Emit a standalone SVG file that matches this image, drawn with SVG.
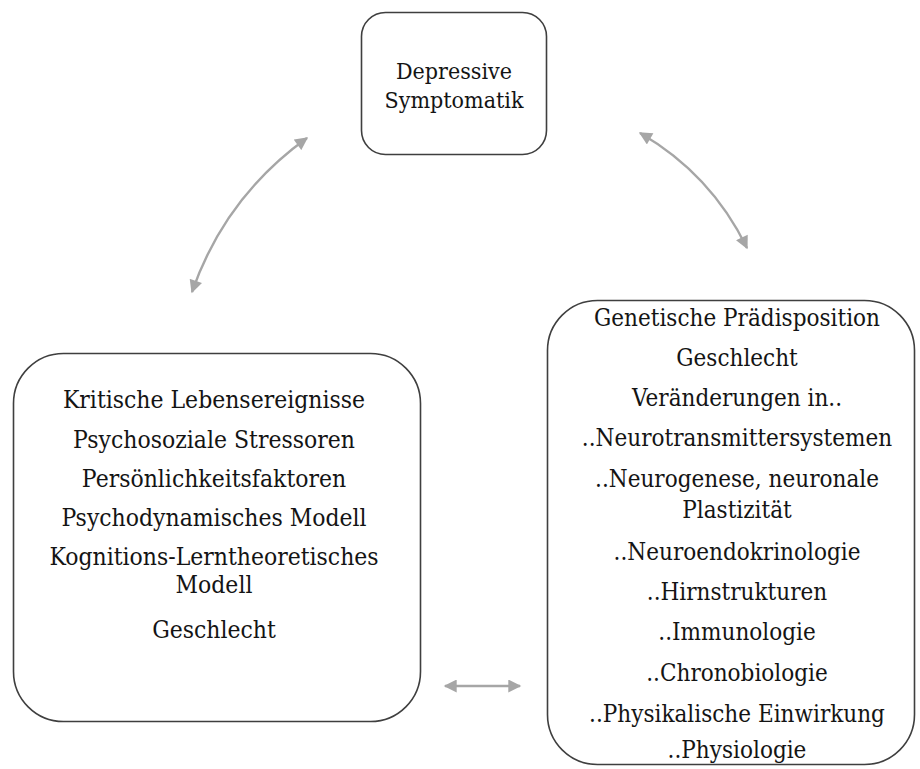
<svg xmlns="http://www.w3.org/2000/svg" width="920" height="769" viewBox="0 0 920 769">
  <style>
    .box { fill: #ffffff; stroke: #3f3f3f; stroke-width: 1.6; }
    .link { fill: none; stroke: #a6a6a6; stroke-width: 2.4; marker-start: url(#head); marker-end: url(#head); }
  </style>
  <defs>
    <marker id="head" viewBox="0 0 10 10" refX="9" refY="5" markerUnits="userSpaceOnUse" markerWidth="14" markerHeight="13" orient="auto-start-reverse">
      <path d="M0,0 L10,5 L0,10 z" fill="#a6a6a6"/>
    </marker>
  </defs>
  <rect width="920" height="769" fill="#ffffff"/>

  <g id="connectors">
    <path class="link" d="M192,292 Q225,197 307,138"/>
    <path class="link" d="M640,133 Q711,174 747,248"/>
    <path class="link" d="M445,686 L520,686"/>
  </g>

  <!-- serif labels, narrowed horizontally to a Times-like width -->
  <g font-family="DejaVu Serif, serif" fill="#141414" text-anchor="middle">
    <g id="node-symptomatik">
      <rect class="box" x="361.5" y="12.5" width="185" height="142" rx="24"/>
      <g font-size="23" transform="translate(454,0) scale(0.9,1)">
        <text x="0" y="79">Depressive</text>
        <text x="0" y="108">Symptomatik</text>
      </g>
    </g>

    <g id="node-psychosozial">
      <rect class="box" x="13.5" y="353.5" width="407" height="368" rx="50"/>
      <g font-size="25" transform="translate(214,0) scale(0.88,1)">
        <text x="0" y="408">Kritische Lebensereignisse</text>
        <text x="0" y="448">Psychosoziale Stressoren</text>
        <text x="0" y="487">Persönlichkeitsfaktoren</text>
        <text x="0" y="526">Psychodynamisches Modell</text>
        <text x="0" y="565">Kognitions-Lerntheoretisches</text>
        <text x="0" y="593">Modell</text>
        <text x="0" y="638">Geschlecht</text>
      </g>
    </g>

    <g id="node-biologisch">
      <rect class="box" x="547.5" y="300.5" width="367" height="464" rx="50"/>
      <g font-size="24" transform="translate(737,0) scale(0.9,1)">
        <text x="0" y="326">Genetische Prädisposition</text>
        <text x="0" y="366">Geschlecht</text>
        <text x="0" y="406">Veränderungen in..</text>
        <text x="0" y="446">..Neurotransmittersystemen</text>
        <text x="0" y="487">..Neurogenese, neuronale</text>
        <text x="0" y="518">Plastizität</text>
        <text x="0" y="560">..Neuroendokrinologie</text>
        <text x="0" y="600">..Hirnstrukturen</text>
        <text x="0" y="640">..Immunologie</text>
        <text x="0" y="681">..Chronobiologie</text>
        <text x="0" y="722">..Physikalische Einwirkung</text>
        <text x="0" y="758">..Physiologie</text>
      </g>
    </g>
  </g>
</svg>
